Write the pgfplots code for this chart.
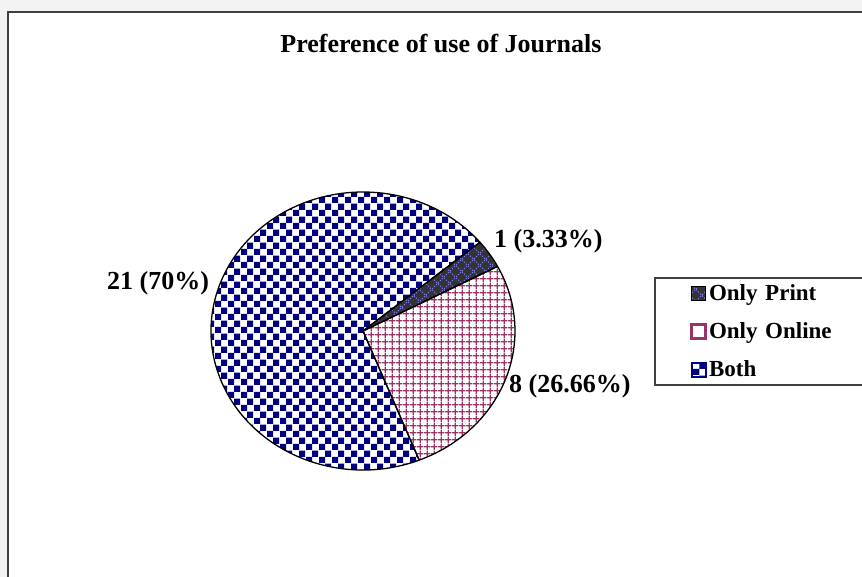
\documentclass[border=0pt]{standalone}
\usepackage{pgfplots}
\pgfplotsset{compat=1.18}
\usepackage{pgfplotstable}
\usetikzlibrary{patterns}
\usepackage{fontspec}
\setmainfont{Liberation Serif}

\definecolor{bgout}{HTML}{F3F3F3}
\definecolor{framec}{HTML}{404040}
\definecolor{navyc}{HTML}{000080}
\definecolor{plum}{HTML}{993366}
\definecolor{darkp}{HTML}{333333}
\definecolor{lav}{HTML}{8080E8}

\pgfdeclarepatternformonly{bigcheck}{\pgfqpoint{0pt}{0pt}}{\pgfqpoint{12.6pt}{12.6pt}}{\pgfqpoint{12.6pt}{12.6pt}}{%
  \pgfpathrectangle{\pgfqpoint{0pt}{0pt}}{\pgfqpoint{6.3pt}{6.3pt}}%
  \pgfpathrectangle{\pgfqpoint{6.3pt}{6.3pt}}{\pgfqpoint{6.3pt}{6.3pt}}%
  \pgfusepath{fill}}
\pgfdeclarepatternformonly{plumgrid}{\pgfqpoint{0pt}{0pt}}{\pgfqpoint{6.7pt}{6.7pt}}{\pgfqpoint{6.7pt}{6.7pt}}{%
  \pgfsetlinewidth{1.3pt}%
  \pgfpathmoveto{\pgfqpoint{3.35pt}{0pt}}\pgfpathlineto{\pgfqpoint{3.35pt}{6.7pt}}%
  \pgfpathmoveto{\pgfqpoint{0pt}{3.35pt}}\pgfpathlineto{\pgfqpoint{6.7pt}{3.35pt}}%
  \pgfusepath{stroke}}
\pgfdeclarepatternformonly{dotdiamond}{\pgfqpoint{0pt}{0pt}}{\pgfqpoint{12pt}{12pt}}{\pgfqpoint{12pt}{12pt}}{%
  \pgfsetlinewidth{1pt}\pgfsetdash{{1.4pt}{1.6pt}}{0pt}%
  \pgfpathmoveto{\pgfqpoint{0pt}{0pt}}\pgfpathlineto{\pgfqpoint{12pt}{12pt}}%
  \pgfpathmoveto{\pgfqpoint{0pt}{12pt}}\pgfpathlineto{\pgfqpoint{12pt}{0pt}}%
  \pgfusepath{stroke}}

\pgfplotstableread{
label value
Print 1
Online 8
Both 21
}\piedata

% slice path: start angle, end angle
\newcommand\slicepath[2]{(axis cs:363,246) -- (axis cs:{363+152*cos(#1)},{246+139*sin(#1)}) arc[start angle=#1, end angle=#2, x radius=152pt, y radius=139pt] -- cycle}

\begin{document}
\begin{tikzpicture}
\pgfplotstablegetelem{0}{value}\of\piedata\edef\vA{\pgfplotsretval}
\pgfplotstablegetelem{1}{value}\of\piedata\edef\vB{\pgfplotsretval}
\pgfplotstablegetelem{2}{value}\of\piedata\edef\vC{\pgfplotsretval}
\pgfmathsetmacro\tot{\vA+\vB+\vC}
\pgfmathsetmacro\aA{39.7}
\pgfmathsetmacro\aB{\aA-360*\vA/\tot}
\pgfmathsetmacro\aC{\aB-360*\vB/\tot}
\pgfmathsetmacro\aD{\aC-360*\vC/\tot}
\begin{axis}[
  x=1pt, y=1pt,
  xmin=0, xmax=862, ymin=0, ymax=577,
  enlargelimits=false,
  hide axis, clip=false,
  legend style={at={(rel axis cs:0.7587,0.5199)}, anchor=north west,
    draw=framec, line width=2pt, fill=white,
    inner xsep=0pt, inner ysep=4pt, row sep=15pt,
    font=\bfseries\fontsize{23}{27}\selectfont,
    nodes={text width=165pt, text height=18pt, text depth=5pt, inner sep=0pt},
    /tikz/every odd column/.append style={column sep=2pt}},
  legend cell align=left,
  legend image code/.code={\path (0pt,0pt); \path[#1] (35pt,-7pt) rectangle (49pt,7pt);},
]
\coordinate (BL) at (axis cs:0,0);
\coordinate (TR) at (axis cs:862,577);
\fill[bgout] (axis cs:0,0) rectangle (axis cs:862,577);
\filldraw[fill=white, draw=framec, line width=2pt] (axis cs:8,-20) rectangle (axis cs:890,565);

\path[fill=darkp, postaction={pattern=dotdiamond, pattern color=lav}] \slicepath{\aA}{\aB};
\path[fill=white, postaction={pattern=plumgrid, pattern color=plum}] \slicepath{\aB}{\aC};
\path[fill=white, postaction={pattern=bigcheck, pattern color=navyc}] \slicepath{\aC}{\aD};
\draw[black, line width=1.3pt, line join=round] \slicepath{\aA}{\aB};
\draw[black, line width=1.3pt, line join=round] \slicepath{\aB}{\aC};
\draw[black, line width=1.3pt, line join=round] \slicepath{\aC}{\aD};

\node[anchor=base, font=\bfseries\fontsize{26}{30}\selectfont, inner sep=0pt] at (axis cs:441,524) {Preference of use of Journals};
\node[anchor=base west, font=\bfseries\fontsize{26}{30}\selectfont, inner sep=0pt] at (axis cs:494,329) {1 (3.33\%)};
\node[anchor=base west, font=\bfseries\fontsize{26}{30}\selectfont, inner sep=0pt] at (axis cs:509,184) {8 (26.66\%)};
\node[anchor=base west, font=\bfseries\fontsize{26}{30}\selectfont, inner sep=0pt] at (axis cs:107,287) {21 (70\%)};

\addlegendimage{fill=darkp, postaction={pattern=dotdiamond, pattern color=lav}, draw=black, line width=1pt}
\addlegendentry{Only Print}
\addlegendimage{fill=white, draw=plum, line width=3pt}
\addlegendentry{Only Online}
\addlegendimage{fill=white, postaction={pattern=bigcheck, pattern color=navyc}, draw=navyc, line width=2pt}
\addlegendentry{Both}
\end{axis}
\pgfresetboundingbox
\useasboundingbox (BL) rectangle (TR);
\end{tikzpicture}
\end{document}
